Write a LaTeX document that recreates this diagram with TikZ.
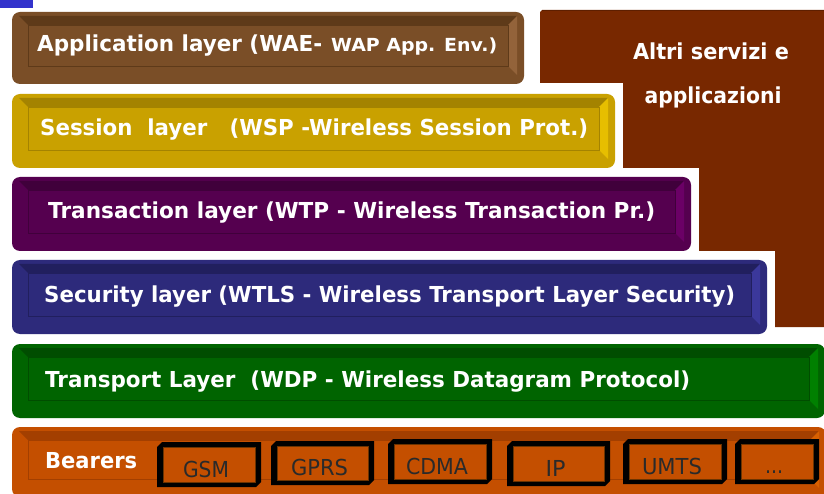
\documentclass[tikz,border=0pt]{standalone}
\usepackage{graphicx}
\usepackage{fontspec}
\usetikzlibrary{calc}
\newfontfamily\lfont{DejaVu Sans}
\definecolor{appbase}{HTML}{7A4E27}
\definecolor{apptop}{HTML}{5E3A19}
\definecolor{appside}{HTML}{93633A}
\definecolor{sesbase}{HTML}{C9A100}
\definecolor{sestop}{HTML}{A48300}
\definecolor{sesside}{HTML}{E6BE00}
\definecolor{trabase}{HTML}{55004F}
\definecolor{tratop}{HTML}{40003B}
\definecolor{traside}{HTML}{6B0066}
\definecolor{secbase}{HTML}{2D2A7B}
\definecolor{sectop}{HTML}{211F5E}
\definecolor{secside}{HTML}{3B389B}
\definecolor{tspbase}{HTML}{006400}
\definecolor{tsptop}{HTML}{004D00}
\definecolor{tspside}{HTML}{008000}
\definecolor{bearbase}{HTML}{C44F00}
\definecolor{beartop}{HTML}{A33F00}
\definecolor{bearside}{HTML}{D86000}
\definecolor{bearline}{HTML}{6B3300}
\definecolor{altri}{HTML}{782800}
\definecolor{altritop}{HTML}{5E1F00}
\definecolor{corner}{HTML}{3333CC}
\definecolor{beartext}{HTML}{2A2A2A}
\newlength\fitlen
\newcommand\fitw[2]{\settowidth{\fitlen}{#2}\pgfmathsetmacro\fitfac{#1/\fitlen}\scalebox{\fitfac}[1]{#2}}
\tikzset{
  layerbox/.style={rectangle, rounded corners=8pt, inner sep=0pt, outer sep=0pt},
  lbl/.style={text=white, inner sep=0pt, anchor=base west, font=\lfont\bfseries\fontsize{22}{26}\selectfont},
  btxt/.style={text=beartext, inner sep=0pt, anchor=base, font=\lfont\fontsize{22}{26}\selectfont},
}
\newcommand\layer[6]{%
  \node[layerbox, fill=#6base, minimum width={(#4-#2)*1pt}, minimum height={(#5-#3)*1pt}, anchor=north west] (#1) at (#2,#3) {};
  \fill[#6top] ($(#1.north west)+(7,4)$) -- ($(#1.north east)+(-7,4)$) -- ($(#1.north east)+(-16,13)$) -- ($(#1.north west)+(16,13)$) -- cycle;
  \fill[#6side] ($(#1.north east)+(-7,4)$) -- ($(#1.south east)+(-7,-9)$) -- ($(#1.south east)+(-16,-18)$) -- ($(#1.north east)+(-16,13)$) -- cycle;
  \draw[#6top, line width=0.6pt] ($(#1.north west)+(16,13)$) rectangle ($(#1.south east)+(-16,-18)$);
}
% name, x0, y0, x1, y1, text width, text, baseline
\newcommand\bearer[8]{%
  \fill[black] (#2,#3+5) -- (#2+5,#3) -- (#4,#3) -- (#4,#5-5) -- (#4-5,#5) -- (#2,#5) -- cycle;
  \node[rectangle, fill=bearbase, draw=bearline, line width=0.6pt, inner sep=0pt, anchor=north west,
        minimum width={(#4-#2-12)*1pt}, minimum height={(#5-#3-10)*1pt}] (#1) at (#2+6,#3+5) {};
  \node[btxt] (#1t) at ({(#2+#4)/2-3},#8) {\fitw{#6}{#7}};
}
\begin{document}
\begin{tikzpicture}[x=1pt,y=-1pt]
\clip (0,0) rectangle (824,494);
\fill[white] (0,0) rectangle (824,494);
\fill[corner] (0,0) rectangle (33,8);
% right block
\fill[altri] (540,12) -- (542,10) -- (826,10) -- (826,327) -- (775,327) -- (775,251) -- (699,251) -- (699,168) -- (623,168) -- (623,83) -- (540,83) -- cycle;
\draw[altritop, line width=1.2pt] (542,10.6) -- (826,10.6);
\node[text=white, inner sep=0pt, anchor=base, font=\lfont\bfseries\fontsize{22}{26}\selectfont] (altri1) at (711,60) {\fitw{156}{Altri servizi e}};
\node[text=white, inner sep=0pt, anchor=base, font=\lfont\bfseries\fontsize{22}{26}\selectfont] (altri2) at (713,104) {\fitw{137}{applicazioni}};
% layers
\layer{app}{12}{12}{524}{84}{app}
\layer{ses}{12}{94}{615}{168}{ses}
\layer{tra}{12}{177}{691}{251}{tra}
\layer{sec}{12}{260}{767}{334}{sec}
\layer{tsp}{12}{344}{825}{418}{tsp}
\layer{bear}{12}{427}{826}{497}{bear}
% texts
\node[lbl] (appt1) at (37,52) {\fitw{285}{Application layer (WAE-}};
\node[lbl, font=\lfont\bfseries\fontsize{18}{22}\selectfont] (appt2) at (331,52) {\fitw{166}{WAP App. Env.)}};
\node[lbl] (sest) at (40,136) {\fitw{548}{Session\ \ layer\ \ \ (WSP -Wireless Session Prot.)}};
\node[lbl] (trat) at (48,219) {\fitw{607}{Transaction layer (WTP - Wireless Transaction Pr.)}};
\node[lbl] (sect) at (44,302) {\fitw{691}{Security layer (WTLS - Wireless Transport Layer Security)}};
\node[lbl] (tspt) at (45,387) {\fitw{645}{Transport Layer\ \ (WDP - Wireless Datagram Protocol)}};
\node[lbl] (beart) at (45,468) {\fitw{92}{Bearers}};
% bearer boxes
\bearer{gsm}{157}{442}{261}{487}{46}{GSM}{477}
\bearer{gprs}{271}{441}{374}{485}{57}{GPRS}{475}
\bearer{cdma}{388}{439}{492}{484}{62}{CDMA}{474}
\bearer{ip}{507}{441}{610}{486}{20}{IP}{476}
\bearer{umts}{623}{439}{727}{484}{60}{UMTS}{474}
\bearer{more}{735}{439}{819}{484}{18}{...}{473}
\end{tikzpicture}
\end{document}
